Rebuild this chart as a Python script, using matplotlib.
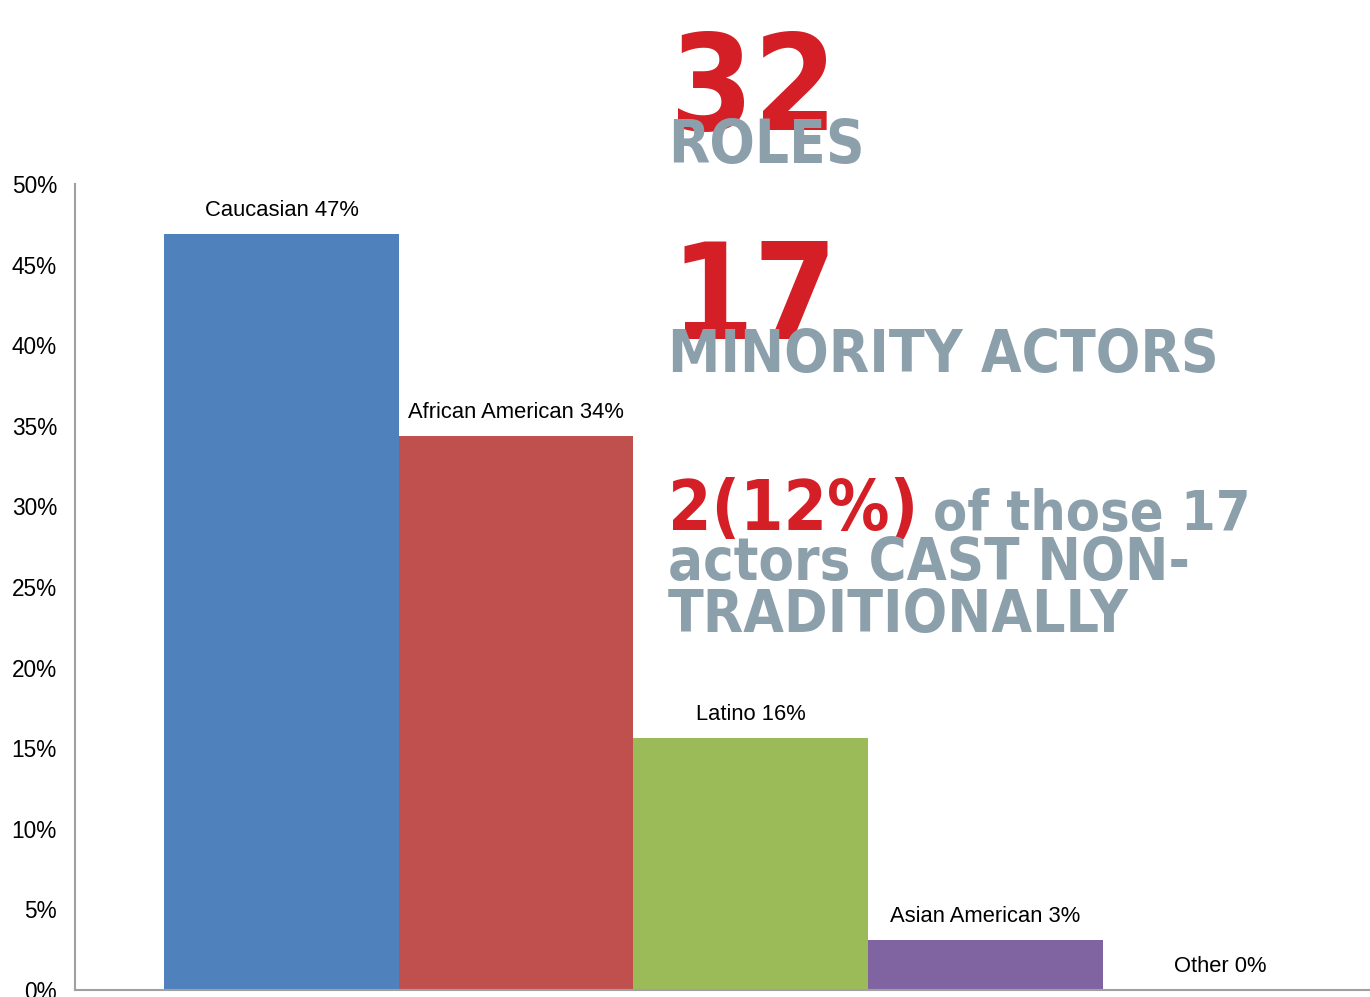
import matplotlib.pyplot as plt

categories = ["Caucasian", "African American", "Latino", "Asian American", "Other"]
shares = [46.875, 34.375, 15.625, 3.125, 0.0]
labels = ["Caucasian 47%", "African American 34%", "Latino 16%", "Asian American 3%", "Other 0%"]
colors = ["#4f81bd", "#c0504d", "#9bbb59", "#8064a2", "#4bacc6"]
yticks = [0, 5, 10, 15, 20, 25, 30, 35, 40, 45, 50]

W, H = 1370, 997
fig = plt.figure(figsize=(W / 100, H / 100), dpi=100)
ax = fig.add_axes([75 / W, 1 - 990 / H, 1 - 75 / W, (990 - 184) / H])

x = range(len(categories))
ax.bar(x, shares, width=1.0, color=colors)
for i, v in enumerate(shares):
    ax.text(i, v + 0.8, labels[i], ha='center', va='bottom', fontsize=15.8,
            family='Liberation Sans')

ax.set_xlim(-0.88, 4.64)
ax.set_ylim(0, 50)
ax.set_yticks(yticks)
ax.set_yticklabels([f"{t}%" for t in yticks], family='Liberation Sans', fontsize=16.3)
ax.set_xticks([])
ax.tick_params(axis='y', length=0, pad=13)
for s in ['top', 'right']:
    ax.spines[s].set_visible(False)
for s in ['left', 'bottom']:
    ax.spines[s].set_color('#a0a0a0')
    ax.spines[s].set_linewidth(1.5)

red = '#d41f27'
grey = '#8ca0ac'
big = dict(family=['DejaVu Sans'], fontstretch='condensed', fontweight='bold')


def px(xp, yp):
    return xp / W, 1 - yp / H


fig.text(*px(670, 130), "32", color=red, fontsize=96, va='baseline', **big)
fig.text(*px(668, 163), "ROLES", color=grey, fontsize=43, va='baseline', **big)
fig.text(*px(670, 339), "17", color=red, fontsize=96, va='baseline', **big)
fig.text(*px(668, 372), "MINORITY ACTORS", color=grey, fontsize=42, va='baseline', **big)
fig.text(*px(668, 530), "2(12%)", color=red, fontsize=50, va='baseline', **big)
fig.text(*px(933, 530), "of those 17", color=grey, fontsize=40, va='baseline', **big)
fig.text(*px(668, 580), "actors CAST NON-", color=grey, fontsize=41.5, va='baseline', **big)
fig.text(*px(668, 632), "TRADITIONALLY", color=grey, fontsize=42, va='baseline', **big)

fig.savefig("out.png", dpi=100)
